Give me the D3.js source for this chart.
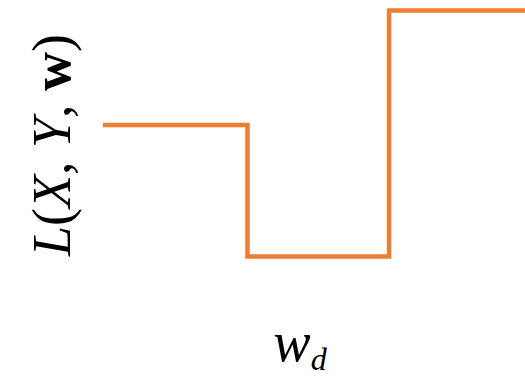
<!DOCTYPE html>
<html>
<head>
<meta charset="utf-8">
<script src="https://cdn.jsdelivr.net/npm/d3@7"></script>
<style>
  html, body { margin: 0; padding: 0; background: #fff; }
  svg { display: block; }
</style>
</head>
<body>
<script>
// Step function of the loss over one weight coordinate w_d
const breakpoints = [0, 1.0, 1.98, 2.92];   // w_d where each level starts (last = end)
const lossLevels = [2.07, 1.0, 3.0, 3.0];   // L(X, Y, w) on each interval

const width = 525, height = 377;
const svg = d3.select("body").append("svg")
  .attr("width", width).attr("height", height);

const x = d3.scaleLinear().domain([0, 2.92]).range([103, 525]);
const y = d3.scaleLinear().domain([1.0, 3.0]).range([256.5, 10.5]);

const pts = breakpoints.map((b, i) => [b, lossLevels[i]]);

const line = d3.line()
  .x(d => x(d[0]))
  .y(d => y(d[1]))
  .curve(d3.curveStepAfter);

svg.append("path")
  .datum(pts)
  .attr("d", line)
  .attr("fill", "none")
  .attr("stroke", "#ED7D31")
  .attr("stroke-width", 4.5)
  .attr("stroke-linejoin", "miter")
  .attr("stroke-linecap", "butt");

// y-axis label: L(X, Y, w)
const yl = svg.append("text")
  .attr("transform", "translate(70,145) rotate(-90)")
  .attr("text-anchor", "middle")
  .attr("font-family", "Liberation Serif, serif")
  .attr("font-size", 54)
  .attr("fill", "#000");
const parts = [
  ["L", "italic", "normal"], ["(", "normal", "normal"], ["X", "italic", "normal"],
  [", ", "normal", "normal"], ["Y", "italic", "normal"], [", ", "normal", "normal"],
  ["w", "normal", "bold"], [")", "normal", "normal"]
];
parts.forEach(([t, st, wt]) => {
  yl.append("tspan").attr("font-style", st).attr("font-weight", wt).text(t);
});

// x-axis label: w_d
const xl = svg.append("text")
  .attr("x", 300).attr("y", 361)
  .attr("text-anchor", "middle")
  .attr("font-family", "Liberation Serif, serif")
  .attr("font-style", "italic")
  .attr("fill", "#000");
xl.append("tspan").attr("font-size", 56).text("w");
xl.append("tspan").attr("font-size", 32).attr("dy", 9).text("d");
</script>
</body>
</html>
